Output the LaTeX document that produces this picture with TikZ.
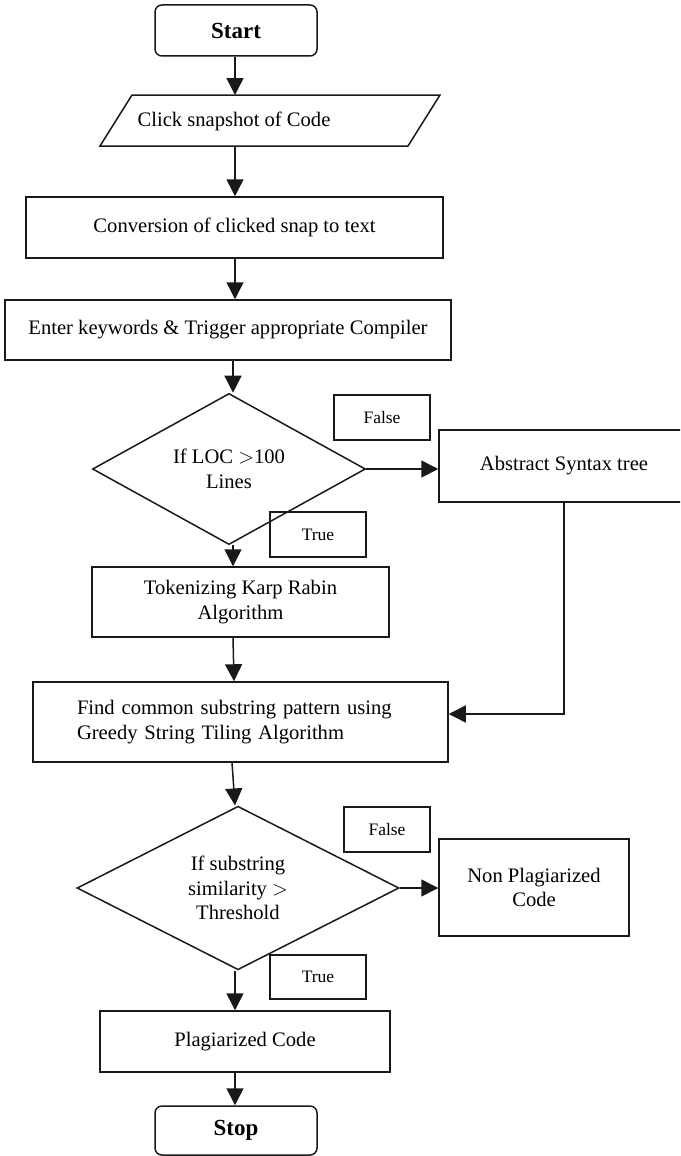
\documentclass[tikz,border=0pt]{standalone}
\usepackage{fontspec}
\setmainfont{Liberation Serif}
\usetikzlibrary{shapes.geometric,arrows.meta,calc}

\tikzset{
  base/.style={draw=black!90, line width=1.5pt, inner sep=0pt, align=center,
               font=\fontsize{20.6}{24.5}\selectfont},
  procbox/.style={base, rectangle},
  termbox/.style={base, rectangle, rounded corners=7pt,
                  font=\fontsize{23}{26}\selectfont\bfseries},
  decide/.style={base, diamond},
  tag/.style={base, rectangle, minimum width=96pt, minimum height=45pt,
              font=\fontsize{17.5}{20}\selectfont},
  flow/.style={line width=1.5pt, draw=black!90,
               -{Triangle[length=17pt,width=17pt]}},
  plain/.style={line width=1.5pt, draw=black!90, line join=miter}
}

\begin{document}
\begin{tikzpicture}[x=1pt,y=-1pt]
  \clip (0,0) rectangle (680,1156);
  \useasboundingbox (0,0) rectangle (680,1156);

  % input parallelogram, drawn as an outline with its text on top
  \coordinate (snapTop) at (235,95);
  \coordinate (snapBot) at (235,146);
  \draw[plain] (132,95) -- (440,95) -- (408,146) -- (100,146) -- cycle;
  \node[base, draw=none] (snap) at (234,121) {Click snapshot of Code};

  % main column
  \node[termbox, minimum width=162pt, minimum height=51pt] (start) at (236,30.5) {Start};
  \node[procbox, minimum width=417pt, minimum height=61pt] (conv) at (234.5,227.5) {Conversion of clicked snap to text};
  \node[procbox, minimum width=446pt, minimum height=60pt] (enter) at (228,330)
       {Enter keywords \& Trigger appropriate Compiler};
  \node[decide, minimum width=273pt, minimum height=114pt] (loc) at (229,469) {If LOC $>$100\\Lines};
  \node[tag] (false1) at (382,417.5) {False};
  \node[procbox, minimum width=250pt, minimum height=72pt] (ast) at (564,466) {Abstract Syntax tree};
  \node[tag] (true1) at (318,534.5) {True};
  \node[procbox, minimum width=297pt, minimum height=70pt] (tok) at (240.5,602) {Tokenizing Karp Rabin\\Algorithm};
  \node[procbox, minimum width=415pt, minimum height=80pt, text width=327pt, align=left] (find) at (240.5,722)
       {Find common substring pattern using\\Greedy String Tiling Algorithm};
  \node[decide, minimum width=322pt, minimum height=160pt] (sim) at (238,888) {If substring\\similarity $>$\\Threshold};
  \node[tag, minimum width=86pt] (false2) at (387,829.5) {False};
  \node[procbox, minimum width=190pt, minimum height=97pt] (nonplag) at (534,887.5) {Non Plagiarized\\Code};
  \node[tag, minimum height=44pt] (true2) at (318,977) {True};
  \node[procbox, minimum width=290pt, minimum height=61pt] (plag) at (245,1041.5) {Plagiarized Code};
  \node[termbox, minimum width=162pt, minimum height=49pt] (stop) at (236,1130.5) {Stop};

  % connectors
  \draw[flow] (start.south -| snapTop) -- (snapTop);
  \draw[flow] (snapBot) -- (snapBot |- conv.north);
  \draw[flow] (snapBot |- conv.south) -- (snapBot |- enter.north);
  \draw[flow] ([xshift=-2pt]snapBot |- enter.south) -- ([xshift=-2pt]snapBot |- loc.north);
  \draw[flow] (loc.east) -- (loc.east -| ast.west);
  \draw[flow] ([xshift=4pt]loc.south) -- ([xshift=4pt]loc.south |- tok.north);
  \draw[flow] ([xshift=4pt]loc.south |- tok.south) -- ([xshift=5pt]loc.south |- find.north);
  \draw[flow] (ast.south) |- ([yshift=8pt]find.east);
  \draw[flow] ([xshift=-6pt]find.south -| sim.north) -- ([xshift=-3pt]sim.north);
  \draw[flow] (sim.east) -- (sim.east -| nonplag.west);
  \draw[flow] ([xshift=-3pt]sim.south) -- ([xshift=-3pt]sim.south |- plag.north);
  \draw[flow] ([xshift=-3pt]sim.south |- plag.south) -- ([xshift=-3pt]sim.south |- stop.north);
\end{tikzpicture}
\end{document}
